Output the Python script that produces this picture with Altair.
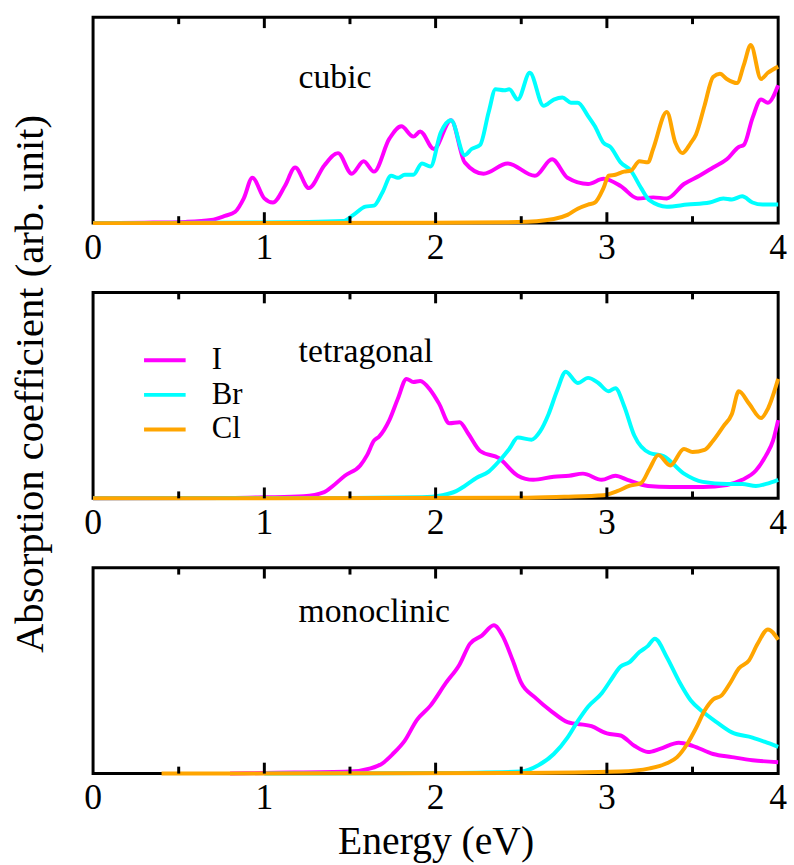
import altair as alt
import pandas as pd

FONT = "Liberation Serif"
W, H = 692, 208

series = ["I", "Br", "Cl"]
colors = ["#ff00ff", "#00ffff", "#ffa500"]
panels = ["cubic", "tetragonal", "monoclinic"]
x_ticks = [0, 1, 2, 3, 4]
x_tick_labels = ["0", "1", "2", "3", "4"]
major_ticks = [1, 2, 3]
minor_ticks = [0.5, 1.5, 2.5, 3.5]

# ---- cubic ----
cubic_I_E = [0, 0.3, 0.54, 0.69, 0.77, 0.83, 0.88, 0.93, 1.0, 1.05, 1.12, 1.18, 1.26, 1.35, 1.43, 1.51, 1.58, 1.64,
             1.73, 1.80, 1.87, 1.91, 1.99, 2.09, 2.17, 2.28, 2.42, 2.58, 2.68, 2.77, 2.89, 2.98, 3.08, 3.18, 3.27,
             3.35, 3.45, 3.54, 3.62, 3.70, 3.77, 3.80, 3.85, 3.90, 3.94, 4.0]
cubic_I_v = [0, 0.002, 0.006, 0.015, 0.035, 0.055, 0.12, 0.22, 0.12, 0.10, 0.18, 0.27, 0.17, 0.28, 0.34, 0.24, 0.30,
             0.25, 0.41, 0.47, 0.42, 0.445, 0.36, 0.50, 0.295, 0.24, 0.29, 0.23, 0.31, 0.22, 0.19, 0.215, 0.18, 0.12,
             0.125, 0.12, 0.19, 0.23, 0.27, 0.31, 0.37, 0.38, 0.51, 0.60, 0.585, 0.67]
cubic_Br_E = [0, 1.0, 1.46, 1.52, 1.59, 1.64, 1.69, 1.74, 1.78, 1.82, 1.87, 1.92, 1.97, 2.03, 2.09, 2.17, 2.21, 2.26,
              2.31, 2.35, 2.40, 2.43, 2.48, 2.55, 2.63, 2.69, 2.74, 2.79, 2.83, 2.89, 2.93, 2.98, 3.02, 3.08, 3.14,
              3.20, 3.25, 3.35, 3.47, 3.60, 3.68, 3.73, 3.79, 3.85, 3.91, 4.0]
cubic_Br_v = [0, 0.003, 0.01, 0.04, 0.08, 0.085, 0.15, 0.23, 0.22, 0.235, 0.235, 0.29, 0.275, 0.44, 0.50, 0.33, 0.36,
              0.38, 0.54, 0.65, 0.645, 0.65, 0.60, 0.73, 0.57, 0.60, 0.61, 0.585, 0.585, 0.52, 0.47, 0.39, 0.37,
              0.295, 0.255, 0.17, 0.11, 0.08, 0.09, 0.10, 0.12, 0.115, 0.13, 0.10, 0.09, 0.09]
cubic_Cl_E = [0, 2.0, 2.48, 2.69, 2.77, 2.83, 2.89, 2.93, 2.98, 3.01, 3.05, 3.10, 3.14, 3.19, 3.24, 3.27, 3.35, 3.40,
              3.44, 3.49, 3.52, 3.57, 3.62, 3.66, 3.70, 3.76, 3.80, 3.84, 3.90, 3.94, 4.0]
cubic_Cl_v = [0, 0.002, 0.005, 0.02, 0.04, 0.07, 0.09, 0.10, 0.17, 0.23, 0.235, 0.25, 0.255, 0.30, 0.295, 0.36, 0.54,
              0.39, 0.34, 0.39, 0.43, 0.57, 0.71, 0.725, 0.70, 0.68, 0.77, 0.865, 0.70, 0.73, 0.76]

# ---- tetragonal ----
tetra_I_E = [0, 0.8, 1.0, 1.23, 1.35, 1.40, 1.47, 1.56, 1.60, 1.64, 1.67, 1.73, 1.78, 1.83, 1.87, 1.91, 1.97, 2.02,
             2.08, 2.14, 2.19, 2.26, 2.37, 2.48, 2.57, 2.69, 2.78, 2.86, 2.97, 3.05, 3.12, 3.24, 3.37, 3.56, 3.70,
             3.79, 3.87, 3.93, 3.97, 4.0]
tetra_I_v = [0, 0.002, 0.005, 0.01, 0.03, 0.06, 0.11, 0.16, 0.21, 0.28, 0.30, 0.38, 0.485, 0.58, 0.565, 0.57, 0.525,
             0.46, 0.365, 0.37, 0.315, 0.23, 0.195, 0.11, 0.09, 0.105, 0.11, 0.12, 0.09, 0.11, 0.09, 0.06, 0.055,
             0.055, 0.065, 0.09, 0.135, 0.21, 0.28, 0.38]
tetra_Br_E = [0, 1.5, 1.92, 2.04, 2.12, 2.17, 2.24, 2.31, 2.37, 2.43, 2.48, 2.56, 2.61, 2.66, 2.71, 2.76, 2.83, 2.89,
              2.95, 3.01, 3.05, 3.10, 3.16, 3.25, 3.33, 3.45, 3.56, 3.70, 3.79, 3.87, 3.93, 4.0]
tetra_Br_v = [0, 0.002, 0.005, 0.015, 0.035, 0.06, 0.10, 0.13, 0.18, 0.24, 0.295, 0.285, 0.325, 0.41, 0.525, 0.615,
              0.56, 0.585, 0.56, 0.52, 0.535, 0.45, 0.305, 0.22, 0.205, 0.12, 0.08, 0.07, 0.07, 0.06, 0.07, 0.09]
tetra_Cl_E = [0, 2.5, 2.75, 2.98, 3.06, 3.13, 3.20, 3.25, 3.30, 3.37, 3.45, 3.50, 3.57, 3.62, 3.68, 3.73, 3.77, 3.83,
              3.90, 3.94, 4.0]
tetra_Cl_v = [0, 0.003, 0.008, 0.015, 0.035, 0.06, 0.075, 0.145, 0.21, 0.16, 0.24, 0.225, 0.235, 0.28, 0.35, 0.41,
              0.52, 0.46, 0.39, 0.435, 0.58]

# ---- monoclinic ----
mono_I_E = [0.8, 1.0, 1.50, 1.62, 1.69, 1.75, 1.82, 1.89, 1.97, 2.06, 2.14, 2.20, 2.27, 2.34, 2.39, 2.45, 2.50, 2.58,
            2.68, 2.77, 2.91, 3.00, 3.08, 3.16, 3.24, 3.31, 3.42, 3.50, 3.62, 3.73, 3.85, 4.0]
mono_I_v = [0, 0.003, 0.01, 0.025, 0.05, 0.095, 0.16, 0.26, 0.33, 0.44, 0.53, 0.63, 0.67, 0.72, 0.67, 0.55, 0.44,
            0.37, 0.30, 0.25, 0.23, 0.195, 0.185, 0.135, 0.105, 0.12, 0.15, 0.135, 0.095, 0.08, 0.065, 0.055]
mono_Br_E = [1.0, 2.0, 2.50, 2.60, 2.69, 2.77, 2.83, 2.89, 2.97, 3.02, 3.08, 3.13, 3.19, 3.24, 3.28, 3.35, 3.42, 3.49,
             3.56, 3.64, 3.73, 3.85, 3.92, 4.0]
mono_Br_v = [0, 0.003, 0.01, 0.04, 0.095, 0.175, 0.255, 0.325, 0.39, 0.45, 0.52, 0.54, 0.59, 0.62, 0.655, 0.565,
             0.45, 0.355, 0.30, 0.25, 0.20, 0.175, 0.155, 0.13]
mono_Cl_E = [0.4, 2.5, 3.08, 3.25, 3.35, 3.41, 3.47, 3.52, 3.57, 3.62, 3.67, 3.72, 3.77, 3.83, 3.88, 3.94, 4.0]
mono_Cl_v = [0, 0.003, 0.01, 0.025, 0.05, 0.08, 0.145, 0.22, 0.305, 0.36, 0.38, 0.44, 0.51, 0.55, 0.63, 0.70, 0.65]

# panel label anchor (data coords)
label_E = [1.2, 1.2, 1.2]
label_v = [0.654, 0.663, 0.735]

panel_data = {
    "cubic": [(cubic_I_E, cubic_I_v), (cubic_Br_E, cubic_Br_v), (cubic_Cl_E, cubic_Cl_v)],
    "tetragonal": [(tetra_I_E, tetra_I_v), (tetra_Br_E, tetra_Br_v), (tetra_Cl_E, tetra_Cl_v)],
    "monoclinic": [(mono_I_E, mono_I_v), (mono_Br_E, mono_Br_v), (mono_Cl_E, mono_Cl_v)],
}

SPACING = 70
LABEL_PAD = 8


def make_panel(idx):
    name = panels[idx]
    rows = []
    for s, (es, vs) in zip(series, panel_data[name]):
        for e, v in zip(es, vs):
            rows.append({"E": e, "v": v, "series": s})
    df = pd.DataFrame(rows)

    x_enc = alt.X(
        "E:Q",
        scale=alt.Scale(domain=[0, 4], nice=False, zero=False),
        axis=alt.Axis(values=x_ticks, labels=False, ticks=False, domain=False, grid=False,
                      title="Energy (eV)" if idx == 2 else None, titlePadding=49,
                      titleFont=FONT, titleFontSize=40, titleFontWeight="normal", titleColor="black"),
    )
    y_enc = alt.Y(
        "v:Q",
        scale=alt.Scale(domain=[0, 1], nice=False),
        axis=alt.Axis(labels=False, ticks=False, domain=False, grid=False,
                      title="Absorption coefficient (arb. unit)" if idx == 1 else None,
                      titlePadding=42, titleY=92, titleFont=FONT, titleFontSize=41,
                      titleFontWeight="normal", titleColor="black"),
    )

    if idx == 1:
        legend = alt.Legend(orient="none", legendX=53, legendY=49, title=None,
                            symbolType="M-1.2,0H1.2", symbolSize=1225, symbolStrokeWidth=4,
                            labelFont=FONT, labelFontSize=31, labelOffset=28,
                            rowPadding=0, labelColor="black")
    else:
        legend = None

    lines = alt.Chart(df).mark_line(strokeWidth=4, interpolate="monotone").encode(
        x=x_enc, y=y_enc,
        color=alt.Color("series:N", scale=alt.Scale(domain=series, range=colors), legend=legend),
        order=alt.Order("E:Q"),
    )

    tick_major = pd.DataFrame({"E": major_ticks})
    tick_minor = pd.DataFrame({"E": minor_ticks})
    tick_layers = []
    for tdf, ln in ((tick_major, 11), (tick_minor, 7)):
        tick_layers.append(alt.Chart(tdf).mark_rule(color="black", strokeWidth=3).encode(
            x=x_enc, y=alt.value(0), y2=alt.value(ln)))
        tick_layers.append(alt.Chart(tdf).mark_rule(color="black", strokeWidth=3).encode(
            x=x_enc, y=alt.value(H), y2=alt.value(H - ln)))

    tl_df = pd.DataFrame({"E": x_ticks, "lab": x_tick_labels})
    tick_text = alt.Chart(tl_df).mark_text(font=FONT, fontSize=36, align="center", baseline="top",
                                           color="black").encode(
        x=x_enc, y=alt.value(H + LABEL_PAD), text="lab:N")

    lab_df = pd.DataFrame({"E": [label_E[idx]], "v": [label_v[idx]], "label": [name]})
    text = alt.Chart(lab_df).mark_text(font=FONT, fontSize=34, align="left", baseline="alphabetic",
                                       color="black").encode(x=x_enc, y=y_enc, text="label:N")

    return alt.layer(lines, *tick_layers, tick_text, text).properties(width=W, height=H)


chart = alt.vconcat(make_panel(0), make_panel(1), make_panel(2), spacing=SPACING, bounds="flush").resolve_scale(
    color="independent").resolve_legend(color="independent").properties(
    padding={"left": 8, "top": 10, "right": 5, "bottom": 0}
).configure_view(stroke="black", strokeWidth=3).configure_axis(
    grid=False, domain=False, ticks=False,
    titleFont=FONT, titleFontSize=40, titleFontWeight="normal", titleColor="black"
).configure_text(font=FONT)

chart.save("out.html", embed_options={"renderer": "svg", "actions": False})
